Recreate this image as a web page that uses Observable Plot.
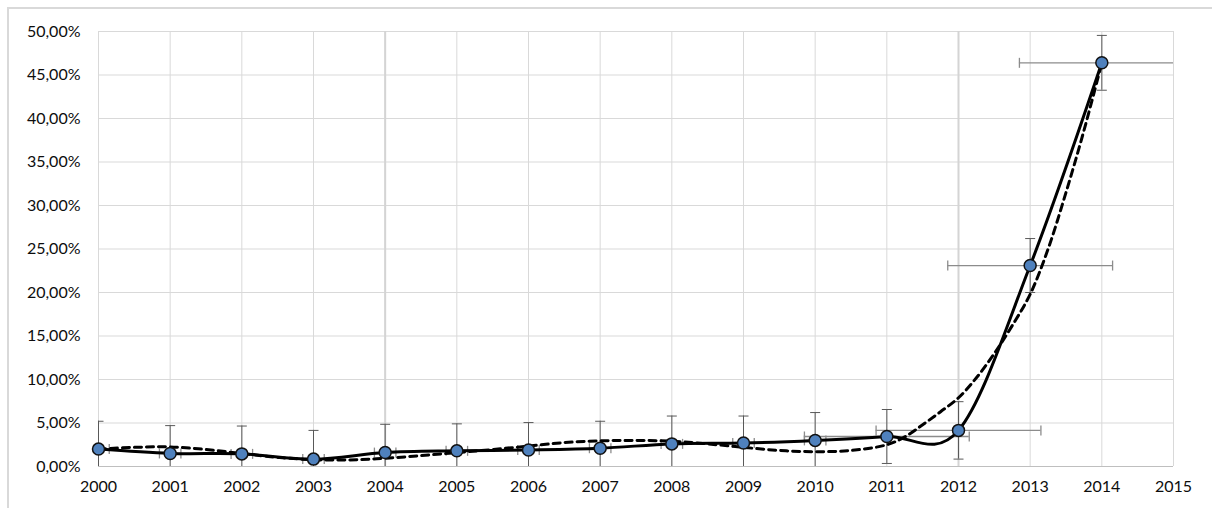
<!DOCTYPE html>
<html>
<head>
<meta charset="utf-8">
<script src="https://cdn.jsdelivr.net/npm/d3@7"></script>
<script src="https://cdn.jsdelivr.net/npm/@observablehq/plot@0.6"></script>
<style>
  html, body { margin: 0; padding: 0; background: #fff; }
  #wrap { position: relative; width: 1212px; height: 508px; overflow: hidden; }
  #edge { position: absolute; left: 7px; top: 7px; width: 1300px; height: 600px;
          border: 2px solid #d9d9d9; box-sizing: border-box; }
  #chart { position: absolute; left: 0; top: 0; }
</style>
</head>
<body>
<div id="wrap"><div id="edge"></div><div id="chart"></div></div>
<script>
// Yearly share (%) with its error ranges
const years = [2000, 2001, 2002, 2003, 2004, 2005, 2006, 2007, 2008, 2009, 2010, 2011, 2012, 2013, 2014];
const share = [2.0, 1.5, 1.45, 0.85, 1.6, 1.8, 1.9, 2.1, 2.6, 2.7, 3.0, 3.45, 4.15, 23.1, 46.4];
const errY  = [3.2, 3.2, 3.2, 3.3, 3.25, 3.1, 3.15, 3.1, 3.2, 3.1, 3.2, 3.1, 3.3, 3.1, 3.15];
const errX  = [0.15, 0.15, 0.15, 0.15, 0.15, 0.15, 0.15, 0.15, 0.15, 0.15, 0.15, 1.15, 1.15, 1.15, 1.15];

// Trend curve (dashed)
const trendYears = [2000, 2000.5, 2001, 2001.5, 2002, 2002.5, 2003, 2003.5, 2004, 2004.5, 2005, 2005.5,
  2006, 2006.5, 2007, 2007.5, 2008, 2008.5, 2009, 2009.5, 2010, 2010.5, 2011, 2011.25, 2011.5, 2011.75,
  2012, 2012.25, 2012.5, 2012.75, 2013, 2013.25, 2013.5, 2013.75, 2014];
const trendShare = [2.0, 2.2, 2.25, 1.95, 1.5, 1.05, 0.78, 0.75, 0.95, 1.25, 1.6, 1.95,
  2.35, 2.75, 2.95, 3.0, 2.9, 2.6, 2.2, 1.85, 1.7, 1.85, 2.5, 3.4, 4.8, 6.3,
  7.9, 10.2, 13.0, 16.2, 19.8, 25.0, 31.5, 38.6, 46.4];

// Axis ticks
const xTicks = [2000, 2001, 2002, 2003, 2004, 2005, 2006, 2007, 2008, 2009, 2010, 2011, 2012, 2013, 2014, 2015];
const yTicks = [0, 5, 10, 15, 20, 25, 30, 35, 40, 45, 50];
const darkGrid = [2004, 2012];

const rows = years.map((year, i) => ({
  year, share: share[i],
  lo: share[i] - errY[i], hi: share[i] + errY[i],
  xlo: year - errX[i], xhi: year + errX[i]
}));
const trend = trendYears.map((year, i) => ({year, share: trendShare[i]}));

// Error-bar end caps as line symbols
const capH = {draw(ctx, size) { const w = Math.sqrt(size / Math.PI); ctx.moveTo(-w, 0); ctx.lineTo(w, 0); }};
const capV = {draw(ctx, size) { const w = Math.sqrt(size / Math.PI); ctx.moveTo(0, -w); ctx.lineTo(0, w); }};

const pct = d => d.toFixed(2).replace(".", ",") + "%";

const chart = Plot.plot({
  width: 1212,
  height: 508,
  marginLeft: 98,
  marginRight: 39,
  marginTop: 31,
  marginBottom: 42,
  style: {fontFamily: "Lato, 'Open Sans', sans-serif", fontSize: "16px", color: "#0d0d0d", background: "transparent"},
  x: {domain: [2000, 2015]},
  y: {domain: [0, 50]},
  marks: [
    Plot.gridY(yTicks, {stroke: "#d9d9d9", strokeOpacity: 1}),
    Plot.gridX(xTicks, {stroke: "#d9d9d9", strokeOpacity: 1}),
    Plot.gridX(darkGrid, {stroke: "#d4d4d4", strokeOpacity: 1, strokeWidth: 2}),
    Plot.ruleY([0], {stroke: "#bfbfbf"}),
    Plot.axisY(yTicks, {tickSize: 0, tickPadding: 18, tickFormat: pct, label: null, fontSize: 16}),
    Plot.axisX(xTicks, {tickSize: 0, tickPadding: 14, tickFormat: d => String(d), label: null, fontSize: 16}),
    // horizontal error bars
    Plot.ruleY(rows, {y: "share", x1: "xlo", x2: "xhi", stroke: "#8c8c8c", strokeWidth: 1.3, clip: true}),
    Plot.dot(rows, {x: "xlo", y: "share", symbol: capV, r: 5, stroke: "#8c8c8c", strokeWidth: 1.3, clip: true}),
    Plot.dot(rows, {x: "xhi", y: "share", symbol: capV, r: 5, stroke: "#8c8c8c", strokeWidth: 1.3, clip: true}),
    // vertical error bars
    Plot.ruleX(rows, {x: "year", y1: "lo", y2: "hi", stroke: "#595959", strokeWidth: 1, clip: true}),
    Plot.dot(rows, {x: "year", y: "hi", symbol: capH, r: 5, stroke: "#595959", strokeWidth: 1, clip: true}),
    Plot.dot(rows, {x: "year", y: "lo", symbol: capH, r: 5, stroke: "#595959", strokeWidth: 1, clip: true}),
    // trend curve
    Plot.line(trend, {x: "year", y: "share", curve: "catmull-rom", stroke: "#000", strokeWidth: 3, strokeDasharray: "7,5"}),
    // smoothed series
    Plot.line(rows, {x: "year", y: "share", curve: "cardinal", stroke: "#000", strokeWidth: 3}),
    Plot.dot(rows, {x: "year", y: "share", r: 6, fill: "#4f81bd", stroke: "#111", strokeWidth: 1.5})
  ]
});
document.getElementById("chart").append(chart);
</script>
</body>
</html>
